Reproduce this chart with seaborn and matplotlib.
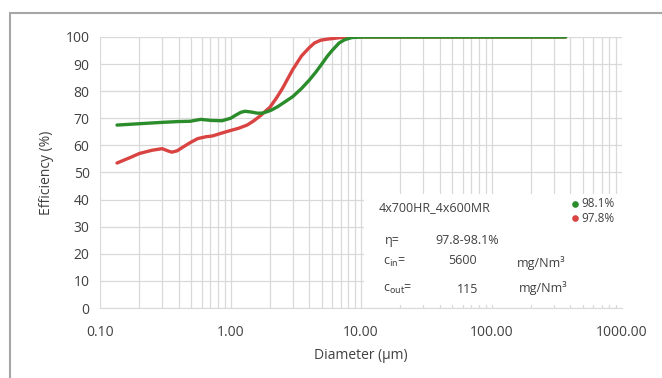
import pandas as pd
import numpy as np
import matplotlib
matplotlib.use("Agg")
import matplotlib.pyplot as plt
from matplotlib.patches import Rectangle
import seaborn as sns

# values
green_x = [0.135, 0.2, 0.3, 0.4, 0.49, 0.59, 0.72, 0.86, 1.0, 1.1, 1.2, 1.29, 1.45, 1.6, 1.75, 1.9, 2.05, 2.3, 2.6, 3.0, 3.5, 4.0, 4.5, 5.0, 5.5, 6.0, 6.8, 7.5, 8.5, 10, 20, 50, 100, 200, 370]
green_y = [67.5, 68.0, 68.5, 68.8, 68.9, 69.6, 69.2, 69.1, 70.0, 71.2, 72.2, 72.6, 72.3, 71.9, 71.9, 72.4, 73.0, 74.3, 76.0, 78.0, 81.0, 84.0, 87.0, 90.0, 92.8, 95.0, 97.8, 99.0, 99.8, 100, 100, 100, 100, 100, 100]
red_x = [0.135, 0.17, 0.2, 0.25, 0.3, 0.33, 0.355, 0.39, 0.42, 0.49, 0.56, 0.65, 0.73, 0.85, 1.0, 1.15, 1.34, 1.5, 1.7, 1.85, 2.0, 2.25, 2.5, 3.0, 3.5, 4.0, 4.4, 4.9, 5.5, 6.0, 7.0, 8.5, 10, 20, 50, 100, 200, 370]
red_y = [53.5, 55.5, 57.0, 58.2, 58.8, 58.0, 57.5, 58.0, 59.0, 61.0, 62.5, 63.2, 63.5, 64.5, 65.5, 66.3, 67.5, 69.0, 71.0, 72.6, 74.0, 77.5, 81.0, 88.0, 93.0, 96.0, 97.8, 98.8, 99.2, 99.4, 99.8, 100, 100, 100, 100, 100, 100, 100]
series = ["98.1%", "97.8%"]
colors = ["#2a8c2a", "#d94341"]
x_ticks = [0.1, 1, 10, 100, 1000]
x_ticklabels = ["0.10", "1.00", "10.00", "100.00", "1000.00"]

df = pd.concat([
    pd.DataFrame({"d": green_x, "eff": green_y, "s": series[0]}),
    pd.DataFrame({"d": red_x, "eff": red_y, "s": series[1]}),
])

sns.set_style("white")
plt.rcParams["font.family"] = ["Open Sans", "DejaVu Sans"]

fig = plt.figure(figsize=(6.62, 3.78), dpi=100)
ax = fig.add_axes([100/662, 1-308/378, 522/662, 271/378])

# chart-area border
fig.patches.append(Rectangle((10/662, -0.1), 1.0, 1-13/378+0.1, transform=fig.transFigure,
                             fill=False, edgecolor="#a6a6a6", linewidth=1.5))

sns.lineplot(data=df, x="d", y="eff", hue="s", hue_order=series[::-1],
             palette={series[0]: colors[0], series[1]: colors[1]},
             linewidth=2.4, ax=ax, legend=False, sort=False, estimator=None)

ax.set_xscale("log")
ax.set_xlim(0.1, 1000)
ax.set_ylim(0, 100)
ax.set_yticks(range(0, 101, 10))
ax.set_xticks(x_ticks)
ax.set_xticklabels(x_ticklabels)
ax.grid(True, which="both", color="#d9d9d9", linewidth=0.9)
ax.set_axisbelow(True)
for s in ["top", "right", "left"]:
    ax.spines[s].set_visible(False)
ax.spines["bottom"].set_color("#d9d9d9")
ax.tick_params(axis="both", which="both", length=4, color="#d9d9d9", labelsize=10, labelcolor="#404040")
ax.tick_params(axis="x", pad=8)
ax.set_xlabel("Diameter (μm)", fontsize=10, color="#404040", labelpad=6)
ax.set_ylabel("Efficiency (%)", fontsize=10, color="#404040", labelpad=8)

# white text box over lower right part of the plot
ax.add_patch(Rectangle((0.505, 0.01), 0.5, 0.41, transform=ax.transAxes,
                       facecolor="white", edgecolor="none", zorder=3))

tc = "#404040"
fs = 9
def note(x, y, s):
    ax.text(x, y, s, transform=ax.transAxes, fontsize=fs, color=tc, zorder=4, va="center")

note(0.534, 0.37, "4x700HR_4x600MR")
note(0.546, 0.25, "η=")
note(0.642, 0.25, "97.8-98.1%")
note(0.542, 0.168, r"c$_\mathrm{in}$=")
note(0.667, 0.177, "5600")
note(0.799, 0.166, "mg/Nm³")
note(0.542, 0.07, r"c$_\mathrm{out}$=")
note(0.684, 0.07, "115")
note(0.803, 0.075, "mg/Nm³")

for i, (lab, c) in enumerate(zip(series, colors)):
    yy = 0.384 - i * 0.052
    ax.scatter([0.91], [yy], transform=ax.transAxes, s=14, color=c, zorder=4, clip_on=False)
    ax.text(0.923, yy, lab, transform=ax.transAxes, fontsize=8.5, color=tc, zorder=4, va="center")

fig.savefig("out.png", dpi=100)
